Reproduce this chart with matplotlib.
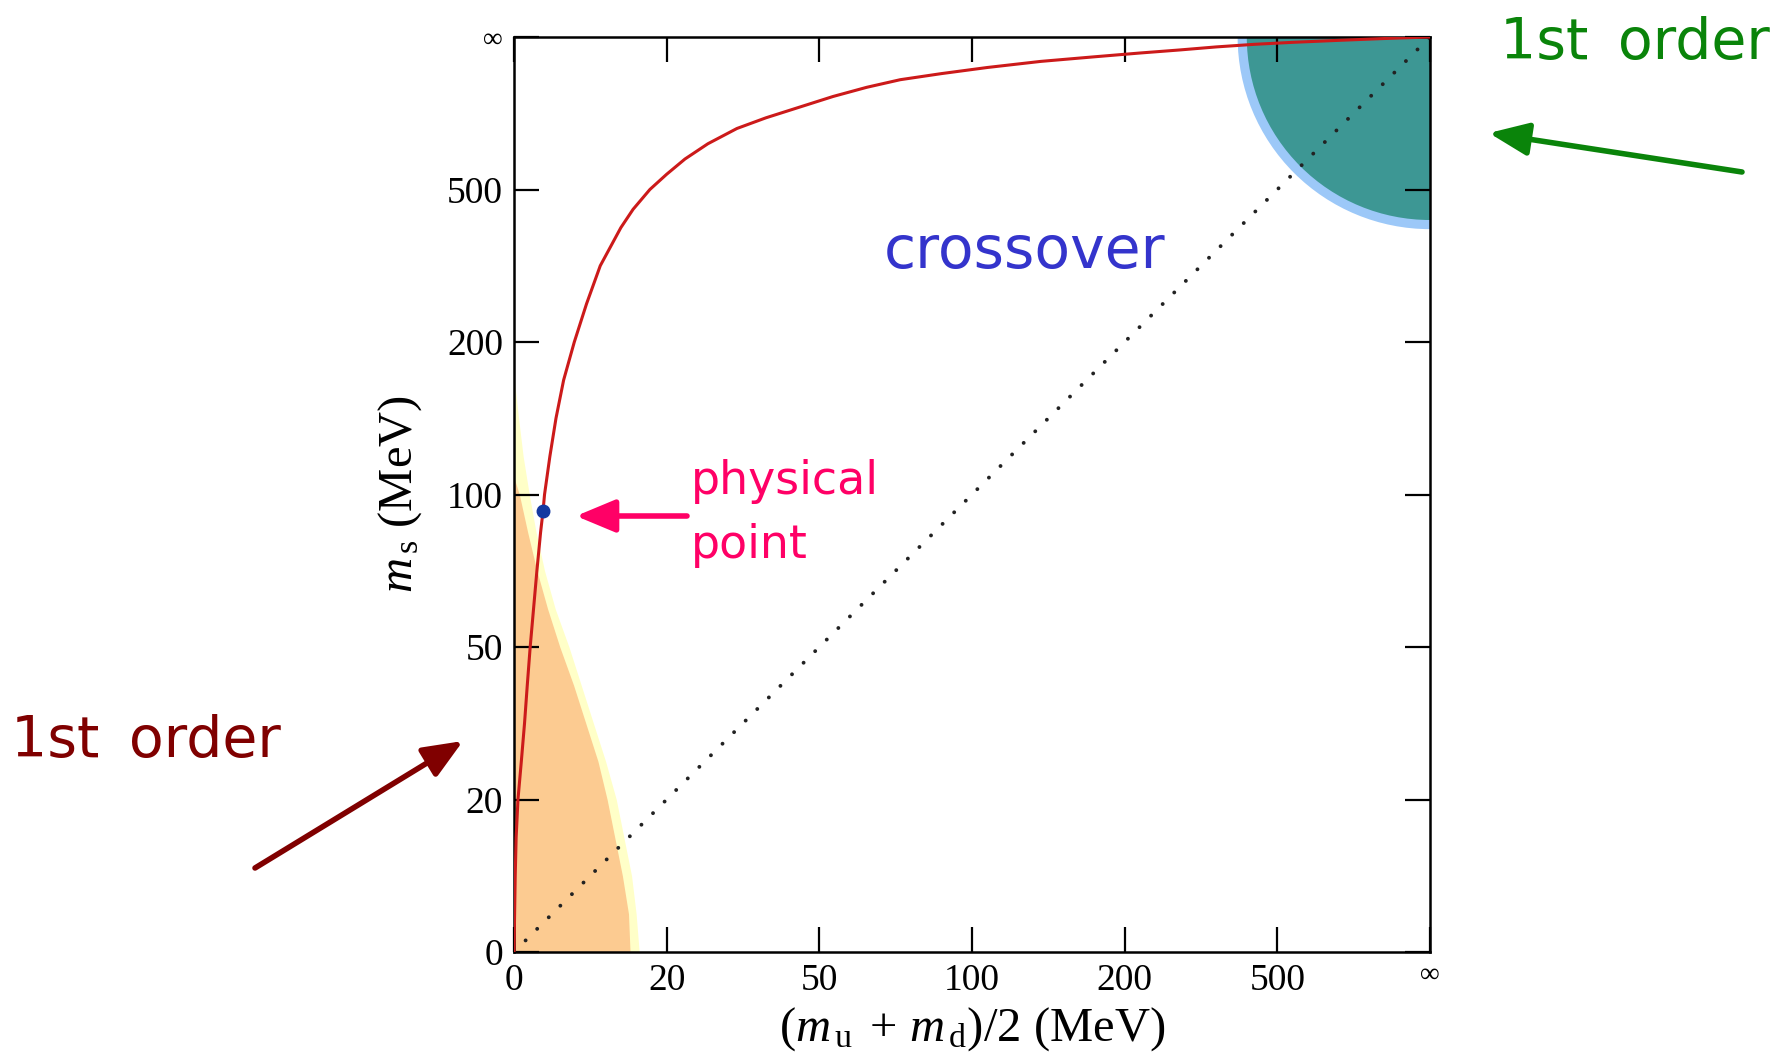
import numpy as np
import matplotlib
matplotlib.use('Agg')
import matplotlib.pyplot as plt
from matplotlib.patches import Circle

plt.rcParams['font.family'] = ['Liberation Serif', 'DejaVu Serif']
plt.rcParams['mathtext.fontset'] = 'custom'
plt.rcParams['mathtext.rm'] = 'Liberation Serif'
plt.rcParams['mathtext.it'] = 'Liberation Serif:italic'

# axes run in tick-index units: 0, 20, 50, 100, 200, 500, inf MeV sit at 0..6
tick_pos = [0, 1, 2, 3, 4, 5, 6]
tick_labels = ['0', '20', '50', '100', '200', '500', '∞']

# second order line (red)
line_x = [0.0, 0.004, 0.008, 0.014, 0.026, 0.048, 0.069, 0.087, 0.106, 0.128,
          0.150, 0.174, 0.19, 0.20, 0.235, 0.275, 0.325, 0.395, 0.475, 0.565,
          0.70, 0.78, 0.89, 1.0, 1.12, 1.27, 1.46, 1.65, 1.87, 2.09, 2.31,
          2.53, 2.8, 3.1, 3.45, 3.8, 4.1, 4.36, 4.6, 4.85, 5.1, 5.4, 5.7, 6.0]
line_y = [0.0, 0.25, 0.5, 0.75, 1.0, 1.25, 1.5, 1.75, 2.0, 2.25,
          2.5, 2.75, 2.89, 3.0, 3.25, 3.5, 3.75, 4.0, 4.25, 4.5,
          4.75, 4.87, 5.0, 5.1, 5.2, 5.3, 5.4, 5.47, 5.54, 5.61, 5.67,
          5.72, 5.76, 5.80, 5.84, 5.87, 5.895, 5.915, 5.935, 5.952, 5.965,
          5.978, 5.99, 6.0]

# light quark first order region (orange) and its error band (yellow)
orange_y = [0, 0.25, 0.5, 0.75, 1.0, 1.25, 1.5, 1.75, 2.0, 2.25, 2.5, 2.75,
            3.0, 3.11]
orange_x = [0.76, 0.75, 0.71, 0.66, 0.61, 0.55, 0.47, 0.39, 0.30, 0.22, 0.15,
            0.09, 0.035, 0.0]
yellow_y = [0, 0.25, 0.5, 0.75, 1.0, 1.25, 1.5, 1.75, 2.0, 2.25, 2.5, 2.75,
            3.0, 3.25, 3.5, 3.77]
yellow_x = [0.82, 0.80, 0.77, 0.72, 0.67, 0.60, 0.52, 0.44, 0.36, 0.27, 0.20,
            0.145, 0.10, 0.06, 0.03, 0.0]

# heavy quark first order region, quarter disc at the (inf, inf) corner
corner = (6, 6)
r_first = 1.2
r_band = 1.26

# physical point and the symmetric line m_s = m_ud
phys_x, phys_y = 0.19, 2.89
diag = [0, 6]

W, H = 1785, 1063
fig = plt.figure(figsize=(W / 100, H / 100), dpi=100)
ax = fig.add_axes([514 / W, 111 / H, 916 / W, 915 / H])

ax.fill_betweenx(yellow_y, 0, yellow_x, color='#ffffc8', lw=0, zorder=1)
ax.fill_betweenx(orange_y, 0, orange_x, color='#fccb91', lw=0, zorder=1.1)
ax.add_patch(Circle(corner, r_band, color='#9cc8f8', lw=0, zorder=1))
ax.add_patch(Circle(corner, r_first, color='#3d9794', lw=0, zorder=1.1))

ax.plot(diag, diag, color='#222222', lw=2.8, linestyle=(0, (0.01, 4.2)),
        dash_capstyle='round', zorder=2)
ax.plot(line_x, line_y, color='#cc1a1a', lw=2.2, zorder=3)
ax.plot(phys_x, phys_y, 'o', color='#1438a0', ms=9, zorder=4)

ax.set_xlim(0, 6)
ax.set_ylim(0, 6)
ax.set_xticks(tick_pos)
ax.set_yticks(tick_pos)
ax.set_xticklabels(tick_labels)
ax.set_yticklabels(tick_labels)
ax.tick_params(direction='in', length=18, width=1.6, labelsize=27, pad=8,
               top=True, right=True, colors='black')
ax.get_xticklabels()[6].set_fontsize(20)
ax.get_yticklabels()[6].set_fontsize(20)
for s in ax.spines.values():
    s.set_linewidth(1.8)

ax.set_xlabel(r'$(m_{\,\rm u}\;+\,m_{\,\rm d})/2$ (MeV)', fontsize=35)
ax.set_ylabel(r'$m_{\,\rm s}$ (MeV)', fontsize=35)
ax.xaxis.set_label_coords(0.5, -0.058)
ax.yaxis.set_label_coords(-0.098, 0.5)

sans = ['DejaVu Sans']
fig.text(1025 / W, 1 - 268 / H, 'crossover', color='#3434cc', fontsize=42,
         family=sans, ha='center', va='baseline')
fig.text(691 / W, 1 - 494 / H, 'physical', color='#ff0066', fontsize=33,
         family=sans, ha='left', va='baseline')
fig.text(691 / W, 1 - 558 / H, 'point', color='#ff0066', fontsize=33,
         family=sans, ha='left', va='baseline')
fig.text(11 / W, 1 - 757 / H, '1st \u2009order', color='#800000', fontsize=41,
         family=sans, ha='left', va='baseline')
fig.text(1500 / W, 1 - 59 / H, '1st \u2009order', color='#0a840a', fontsize=41,
         family=sans, ha='left', va='baseline')

arrows = [((687, 516), (576, 516), '#ff0066'),
          ((255, 868), (463, 741), '#800000'),
          ((1742, 172), (1489, 133), '#0a840a')]
for tail, tip, c in arrows:
    ax.annotate('', xy=(tip[0], H - tip[1]), xytext=(tail[0], H - tail[1]),
                xycoords='figure pixels', textcoords='figure pixels',
                arrowprops=dict(arrowstyle='-|>,head_length=1.2,head_width=0.5',
                                mutation_scale=20, lw=4, color=c,
                                shrinkA=0, shrinkB=0))

fig.savefig('out.png', dpi=100)
